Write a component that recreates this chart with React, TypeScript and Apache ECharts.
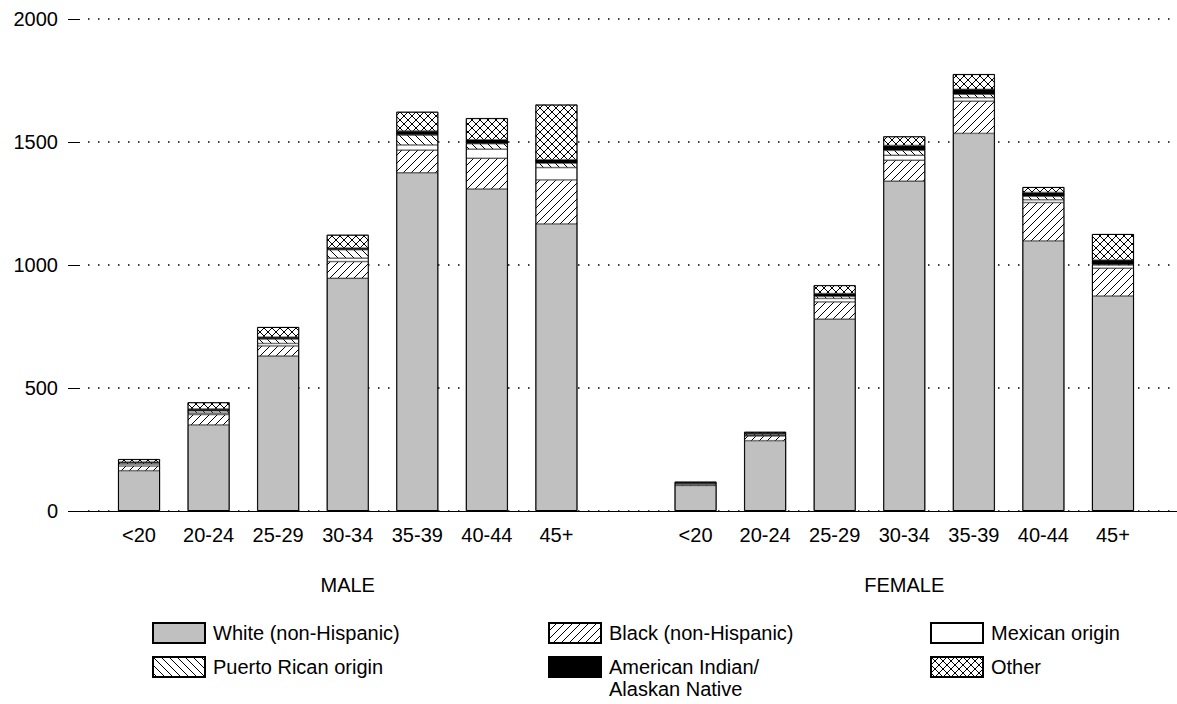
import React, { useEffect, useRef } from "react";
import * as echarts from "echarts";

const ageGroups = ["<20", "20-24", "25-29", "30-34", "35-39", "40-44", "45+"];
const groupNames = ["MALE", "FEMALE"];

const seriesNames = [
  "White (non-Hispanic)",
  "Black (non-Hispanic)",
  "Mexican origin",
  "Puerto Rican origin",
  "American Indian/\nAlaskan Native",
  "Other",
];

// MALE values (bottom to top of stack)
const maleWhite = [164, 350, 630, 946, 1375, 1309, 1167];
const maleBlack = [19, 42, 41, 68, 92, 125, 179];
const maleMexican = [8, 6, 10, 14, 21, 37, 50];
const malePuertoRican = [5, 9, 18, 34, 40, 22, 18];
const maleAmIndian = [3, 8, 8, 7, 17, 16, 14];
const maleOther = [12, 27, 41, 54, 78, 88, 224];

// FEMALE values
const femaleWhite = [104, 286, 780, 1341, 1535, 1098, 874];
const femaleBlack = [3, 19, 70, 85, 131, 156, 113];
const femaleMexican = [5, 3, 14, 20, 14, 11, 13];
const femalePuertoRican = [2, 5, 9, 20, 14, 14, 3];
const femaleAmIndian = [2, 4, 11, 20, 20, 16, 17];
const femaleOther = [3, 5, 34, 37, 62, 22, 106];

const FONT = "Liberation Sans, Arial, Helvetica, sans-serif";
const FS = 20;

function makePattern(kind: string) {
  const s = 8;
  const c = document.createElement("canvas");
  c.width = s;
  c.height = s;
  const ctx = c.getContext("2d")!;
  ctx.fillStyle = "#fff";
  ctx.fillRect(0, 0, s, s);
  ctx.strokeStyle = "#000";
  ctx.lineWidth = 1;
  ctx.beginPath();
  for (const k of [-s, 0, s]) {
    if (kind.includes("/")) {
      ctx.moveTo(k, s);
      ctx.lineTo(k + s, 0);
    }
    if (kind.includes("\\")) {
      ctx.moveTo(k, 0);
      ctx.lineTo(k + s, s);
    }
  }
  ctx.stroke();
  return { image: c.toDataURL(), repeat: "repeat", imageWidth: s, imageHeight: s };
}

export default function App() {
  const ref = useRef<HTMLDivElement>(null);
  useEffect(() => {
    if (!ref.current) return;
    const chart = echarts.init(ref.current, null, { renderer: "svg" });
    const categories = [...ageGroups, "", ...ageGroups];
    const groupRow = categories.map((_, i) => (i === 3 ? groupNames[0] : i === 11 ? groupNames[1] : ""));
    const join = (m: number[], f: number[]) => [...m, null, ...f];
    const values = [
      join(maleWhite, femaleWhite),
      join(maleBlack, femaleBlack),
      join(maleMexican, femaleMexican),
      join(malePuertoRican, femalePuertoRican),
      join(maleAmIndian, femaleAmIndian),
      join(maleOther, femaleOther),
    ];
    const totals = values[0].map((_, j) =>
      values[0][j] == null ? null : values.reduce((s, arr) => s + (arr[j] as number), 0)
    );
    const fills: any[] = [
      "#c0c0c0",
      makePattern("/"),
      "#ffffff",
      makePattern("\\"),
      "#000000",
      makePattern("/\\"),
    ];
    const legendPos = [
      { left: 152, top: 622 },
      { left: 548, top: 622 },
      { left: 930, top: 622 },
      { left: 152, top: 656 },
      { left: 548, top: 634 },
      { left: 930, top: 656 },
    ];
    const legends = seriesNames.map((name, i) => ({
      ...legendPos[i],
      padding: 0,
      itemWidth: 52,
      itemHeight: 20,
      icon: "rect",
      selectedMode: false,
      data: [name],
      formatter: (n: string) => (n.includes("\n") ? "\n" + n : n),
      textStyle: {
        fontSize: FS,
        lineHeight: 22,
        color: "#000",
        fontFamily: FONT,
        padding: [0, 0, 0, 3],
      },
    }));
    const option: any = {
      animation: false,
      textStyle: { fontFamily: FONT, color: "#000" },
      grid: [
        { left: 80, right: 0, top: 19, height: 492 },
        { left: 104.25, right: 29.25, top: 19, height: 492 },
      ],
      xAxis: [
        {
          gridIndex: 0,
          type: "value",
          min: 0,
          max: 1,
          axisLine: { show: true, lineStyle: { color: "#000", width: 1 } },
          axisTick: { show: false },
          axisLabel: { show: false },
          splitLine: { show: false },
        },
        {
          gridIndex: 1,
          type: "category",
          data: categories,
          axisLine: { show: false },
          axisTick: { show: false },
          axisLabel: { interval: 0, fontSize: FS, color: "#000", margin: 14, fontFamily: FONT },
        },
        {
          gridIndex: 1,
          type: "category",
          data: groupRow,
          position: "bottom",
          offset: 50,
          axisLine: { show: false },
          axisTick: { show: false },
          axisLabel: { interval: 0, fontSize: FS, color: "#000", margin: 14, fontFamily: FONT },
        },
      ],
      yAxis: [
        {
          gridIndex: 0,
          type: "value",
          min: 0,
          max: 2000,
          interval: 500,
          axisLine: { show: false },
          axisTick: { show: true, length: 12, lineStyle: { color: "#000", width: 1 } },
          axisLabel: {
            fontSize: FS,
            color: "#000",
            margin: 22,
            fontFamily: FONT,
            formatter: (v: number) => String(v),
          },
          splitLine: {
            show: true,
            lineStyle: { color: "#000", width: 1.5, type: [1.5, 8.5], dashOffset: 2 },
          },
        },
        { gridIndex: 1, type: "value", min: 0, max: 2000, show: false },
      ],
      legend: legends,
      series: [
        ...seriesNames.map((name, i) => ({
          name,
          type: "bar",
          stack: "total",
          xAxisIndex: 1,
          yAxisIndex: 1,
          barWidth: 42,
          barGap: "-100%",
          data: values[i],
          itemStyle: { color: fills[i], borderColor: "#000", borderWidth: 0.5 },
          emphasis: { disabled: true },
        })),
        {
          type: "bar",
          stack: "outline",
          xAxisIndex: 1,
          yAxisIndex: 1,
          barWidth: 42,
          barGap: "-100%",
          z: 3,
          data: totals,
          itemStyle: { color: "rgba(0,0,0,0)", borderColor: "#000", borderWidth: 1 },
          emphasis: { disabled: true },
          silent: true,
        },
      ],
    };
    chart.setOption(option);
    return () => chart.dispose();
  }, []);
  return (
    <div
      ref={ref}
      style={{ position: "fixed", left: 0, top: 0, width: 1177, height: 704, background: "#fff" }}
    />
  );
}
